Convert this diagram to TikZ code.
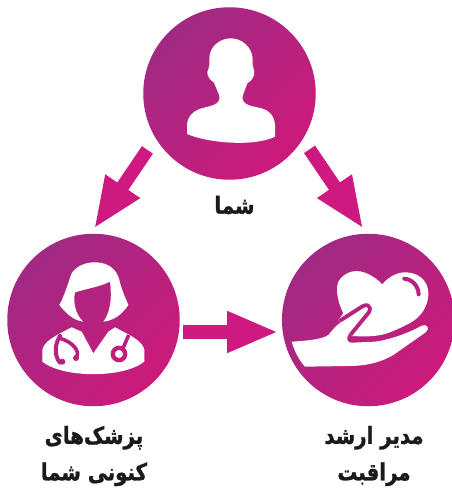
\documentclass[tikz,border=0pt]{standalone}
\usepackage{fontspec}
\usetikzlibrary{arrows.meta}
\TeXXeTstate=1
\newfontfamily\arabicfont[Script=Arabic,FakeStretch=0.84,BoldFeatures={FakeStretch=0.84,FakeBold=1.2}]{DejaVu Sans}
\definecolor{hubA}{HTML}{A02A82}
\definecolor{hubB}{HTML}{CC1A7B}
\definecolor{hubMid}{HTML}{B8217F}
\definecolor{flow}{HTML}{CE1A80}
\definecolor{ink}{HTML}{1A1A1A}
\tikzset{
  hub/.style={circle,inner sep=0pt,outer sep=0pt,minimum size=172.5pt,top color=hubA,bottom color=hubB,shading angle=45},
  flowline/.style={draw=flow,line width=13.3pt,-{Triangle[length=51.5pt,width=38pt]}},
  label/.style={inner sep=0pt,align=center,text=ink,font=\arabicfont\bfseries\fontsize{23.5}{36.5}\selectfont},
  icon/.style={fill=white,draw=none},
  zoomed/.style={x=0.33333pt,y=-0.33333pt}
}
\begin{document}
\begin{tikzpicture}[x=1pt,y=-1pt]
\useasboundingbox (0,0) rectangle (451,489);
\fill[white] (0,0) rectangle (451,489);
\node[hub] (you) at (229.5,93.5) {};
\node[hub] (doc) at (93.5,320) {};
\node[hub] (care) at (368.2,320) {};
% arrows
\draw[flowline,shorten <=14.5pt,shorten >=6pt] (you.211) -- (doc.92);
\draw[flowline,shorten <=12.3pt,shorten >=6pt] (you.-32.6) -- (care.91);
\draw[flowline,shorten <=4.3pt,shorten >=4.2pt] (doc.-8.3) -- (care.188.3);
% person
\begin{scope}[shift={(140,0)},zoomed]
\fill[icon] (141,402) .. controls (200,428) and (340,442) .. (405,410)
 -- (405,375) .. controls (403,345) and (385,330) .. (365,325)
 .. controls (345,320) and (325,318) .. (316,310)
 .. controls (306,302) and (306,292) .. (310,282)
 -- (322,250) .. controls (335,242) and (346,228) .. (342,212)
 .. controls (340,206) and (338,205) .. (338,195) -- (338,175)
 .. controls (335,140) and (305,115) .. (272,115)
 .. controls (240,115) and (208,140) .. (208,175) -- (208,195)
 .. controls (208,205) and (203,208) .. (202,216)
 .. controls (201,228) and (210,240) .. (222,248)
 -- (236,282) .. controls (240,292) and (240,302) .. (230,310)
 .. controls (220,318) and (200,320) .. (185,325)
 .. controls (160,332) and (141,350) .. (141,378) -- cycle;
\end{scope}
% doctor
\begin{scope}[shift={(0,240)},zoomed]
\fill[icon,even odd rule] (178,195) .. controls (195,165) and (205,125) .. (215,100)
 .. controls (228,78) and (260,65) .. (290,67)
 .. controls (330,70) and (350,90) .. (358,120)
 .. controls (365,150) and (378,178) .. (385,195)
 .. controls (365,225) and (340,242) .. (310,245)
 .. controls (325,225) and (338,190) .. (330,125)
 .. controls (300,140) and (265,145) .. (225,157)
 .. controls (218,190) and (228,225) .. (250,245)
 .. controls (215,240) and (195,215) .. (178,195) -- cycle;
\fill[icon] (127,365) .. controls (190,415) and (370,415) .. (433,365)
 -- (433,330) .. controls (428,305) and (400,290) .. (345,262)
 -- (325,275) -- (280,340) -- (245,275) -- (215,262)
 .. controls (160,290) and (132,305) .. (127,330) -- cycle;
\draw[draw=hubMid,line width=4pt,line cap=round] (180,288) .. controls (166,310) and (160,345) .. (180,368);
\draw[draw=hubMid,line width=3.6pt,line cap=round] (183,296) .. controls (215,305) and (245,335) .. (227,354);
\fill[hubMid] (187,365) circle[radius=9] (228,354) circle[radius=9];
\draw[draw=hubB!70!hubMid,line width=4.3pt] (357,342) circle[radius=18.5];
\draw[draw=hubMid,line width=3.6pt] (386,285) -- (369,325);
\end{scope}
% hand and heart
\begin{scope}[shift={(275,240)},zoomed]
\def\heartpath{(322,133) .. controls (340,110) and (370,95) .. (395,97)
 .. controls (440,100) and (462,130) .. (460,165)
 .. controls (458,200) and (440,225) .. (415,243)
 .. controls (390,258) and (360,272) .. (330,282)
 .. controls (300,290) and (270,290) .. (230,288)
 -- (190,240) -- (205,220)
 .. controls (190,190) and (180,150) .. (190,125)
 .. controls (205,100) and (235,85) .. (270,98)
 .. controls (290,105) and (310,120) .. (322,133) -- cycle}
\def\handpath{(50,305) .. controls (100,302) and (140,298) .. (160,285)
 .. controls (175,268) and (182,255) .. (205,243)
 -- (266,204) .. controls (278,197) and (282,206) .. (276,214)
 -- (222,280) .. controls (212,295) and (216,310) .. (232,308)
 -- (300,305) .. controls (340,300) and (400,280) .. (440,257)
 .. controls (455,250) and (467,265) .. (452,277)
 -- (355,345) .. controls (320,365) and (280,378) .. (220,378)
 -- (90,380) .. controls (70,358) and (58,332) .. (50,305) -- cycle}
\fill[icon] \heartpath;
\begin{scope}
\clip \heartpath;
\draw[draw=hubMid,line width=8pt,line join=round] \handpath;
\end{scope}
\fill[icon] \handpath;
\draw[draw=hubMid,line width=4pt,line cap=round] (388,116) .. controls (412,118) and (430,138) .. (431,163);
\end{scope}
% labels
\node[label] (youtxt) at (234.5,205) {\beginR شما\endR};
\node[label] (doctxt) at (94,456) {\beginR پزشک‌های\endR\\\beginR کنونی شما\endR};
\node[label] (caretxt) at (374,456) {\beginR مدیر ارشد\endR\\\beginR مراقبت\endR};
\end{tikzpicture}
\end{document}
